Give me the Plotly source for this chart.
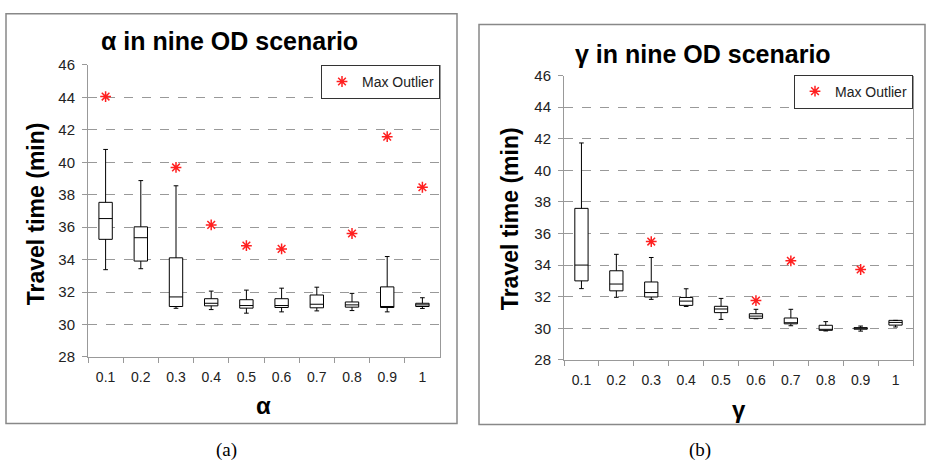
import plotly.graph_objects as go

categories = ["0.1", "0.2", "0.3", "0.4", "0.5", "0.6", "0.7", "0.8", "0.9", "1"]

# Panel (a): alpha
a_low = [33.38, 33.44, 31.00, 30.92, 30.70, 30.78, 30.84, 30.86, 30.78, 30.99]
a_q1 = [35.25, 33.91, 31.11, 31.15, 31.01, 31.05, 31.03, 31.07, 31.05, 31.11]
a_med = [36.53, 35.35, 31.70, 31.31, 31.17, 31.17, 31.25, 31.21, 31.11, 31.21]
a_q3 = [37.53, 36.02, 34.11, 31.59, 31.53, 31.59, 31.82, 31.39, 32.32, 31.31]
a_high = [40.79, 38.87, 38.55, 32.06, 32.12, 32.24, 32.30, 31.92, 34.19, 31.65]
a_out_cat = ["0.1", "0.3", "0.4", "0.5", "0.6", "0.8", "0.9", "1"]
a_out = [44.05, 39.68, 36.14, 34.86, 34.66, 35.61, 41.58, 38.46]

# Panel (b): gamma
g_low = [32.51, 31.96, 31.83, 31.38, 30.56, 30.60, 30.16, 29.83, 29.82, 30.08]
g_q1 = [33.00, 32.37, 31.98, 31.45, 30.99, 30.63, 30.28, 29.87, 29.94, 30.20]
g_med = [34.00, 32.80, 32.26, 31.72, 31.22, 30.77, 30.35, 29.93, 30.00, 30.37]
g_q3 = [37.59, 33.64, 32.93, 31.95, 31.39, 30.92, 30.65, 30.19, 30.04, 30.50]
g_high = [41.73, 34.68, 34.48, 32.50, 31.89, 31.20, 31.20, 30.42, 30.14, 30.50]
g_out_cat = ["0.3", "0.6", "0.7", "0.9"]
g_out = [35.49, 31.75, 34.27, 33.72]

W, H = 927, 471
def px(x): return x / W
def py(y): return 1 - y / H

fig = go.Figure()

box_style = dict(line=dict(color="black", width=1), fillcolor="white",
                 width=0.38, whiskerwidth=0.35, boxpoints=False, showlegend=False,
                 hoverinfo="skip")
fig.add_trace(go.Box(x=categories, q1=a_q1, median=a_med, q3=a_q3,
                     lowerfence=a_low, upperfence=a_high,
                     xaxis="x", yaxis="y", **box_style))
fig.add_trace(go.Box(x=categories, q1=g_q1, median=g_med, q3=g_q3,
                     lowerfence=g_low, upperfence=g_high,
                     xaxis="x2", yaxis="y2", **box_style))

star = dict(symbol="asterisk", size=9, color="#FF2020",
            line=dict(color="#FF2020", width=1.5))
fig.add_trace(go.Scatter(x=a_out_cat, y=a_out, mode="markers", marker=star,
                         name="Max Outlier", xaxis="x", yaxis="y", legend="legend"))
fig.add_trace(go.Scatter(x=g_out_cat, y=g_out, mode="markers", marker=star,
                         name="Max Outlier", xaxis="x2", yaxis="y2", legend="legend2"))

xtickfont = dict(family="Liberation Sans, Arial", size=14, color="#222")
ytickfont = dict(family="Liberation Sans, Arial", size=15, color="#222")
xcommon = dict(type="category", categoryorder="array", categoryarray=categories,
               range=[-0.5, 9.5], showgrid=False, showline=True, linecolor="#999",
               linewidth=1, ticks="outside", ticklen=5, tickcolor="#999",
               tickson="boundaries", tickfont=xtickfont, zeroline=False,
               ticklabelstandoff=7)
ycommon = dict(range=[28, 46], dtick=2, showgrid=True, gridcolor="#999",
               griddash="dash", gridwidth=1, showline=True, linecolor="#999",
               mirror=True, ticks="outside", ticklen=5, tickcolor="#999",
               tickfont=ytickfont, zeroline=False, ticklabelstandoff=4)

legfont = dict(family="Liberation Sans, Arial", size=14, color="#222")
fig.update_layout(
    width=W, height=H, margin=dict(l=0, r=0, t=0, b=0),
    paper_bgcolor="white", plot_bgcolor="white",
    xaxis=dict(domain=[px(88), px(440)], anchor="y", **xcommon),
    yaxis=dict(domain=[py(361), py(58)], anchor="x", **ycommon),
    xaxis2=dict(domain=[px(564), px(913)], anchor="y2", **xcommon),
    yaxis2=dict(domain=[py(364), py(69)], anchor="x2", **ycommon),
    legend=dict(x=px(440), y=py(58), xanchor="right", yanchor="top",
                bordercolor="#333", borderwidth=1, bgcolor="white",
                font=legfont, itemwidth=30, tracegroupgap=0),
    legend2=dict(x=px(913), y=py(68), xanchor="right", yanchor="top",
                 bordercolor="#333", borderwidth=1, bgcolor="white",
                 font=legfont, itemwidth=30, tracegroupgap=0),
)

# panel frames
fig.add_shape(type="rect", xref="paper", yref="paper", x0=px(6), x1=px(457),
              y0=py(430), y1=py(5), line=dict(color="#888", width=1.5), layer="below")
fig.add_shape(type="rect", xref="paper", yref="paper", x0=px(479), x1=px(925),
              y0=py(431), y1=py(16), line=dict(color="#888", width=1.5), layer="below")

bold = dict(family="Liberation Sans, Arial", color="black")
ann = [
    dict(text="<b>α in nine OD scenario</b>", x=px(229), y=py(33), size=25, angle=0),
    dict(text="<b>γ in nine OD scenario</b>", x=px(703), y=py(47), size=25, angle=0),
    dict(text="<b>α</b>", x=px(263), y=py(411), size=24, angle=0),
    dict(text="<b>γ</b>", x=px(739), y=py(416), size=24, angle=0),
    dict(text="<b>Travel time (min)</b>", x=px(36), y=py(213), size=23, angle=-90),
    dict(text="<b>Travel time (min)</b>", x=px(510), y=py(218), size=23, angle=-90),
]
for a in ann:
    fig.add_annotation(text=a["text"], x=a["x"], y=a["y"], xref="paper", yref="paper",
                       showarrow=False, xanchor="center", yanchor="middle",
                       textangle=a["angle"], font=dict(size=a["size"], **bold))

serif = dict(family="Liberation Serif, Times New Roman", size=19, color="black")
for txt, xx in (("(a)", 226), ("(b)", 700)):
    fig.add_annotation(text=txt, x=px(xx), y=py(458), xref="paper", yref="paper",
                       showarrow=False, xanchor="center", yanchor="middle", font=serif)

fig.write_html("out.html", config={"displayModeBar": False},
               post_script="document.body.style.margin='0';document.body.style.overflow='hidden';")
